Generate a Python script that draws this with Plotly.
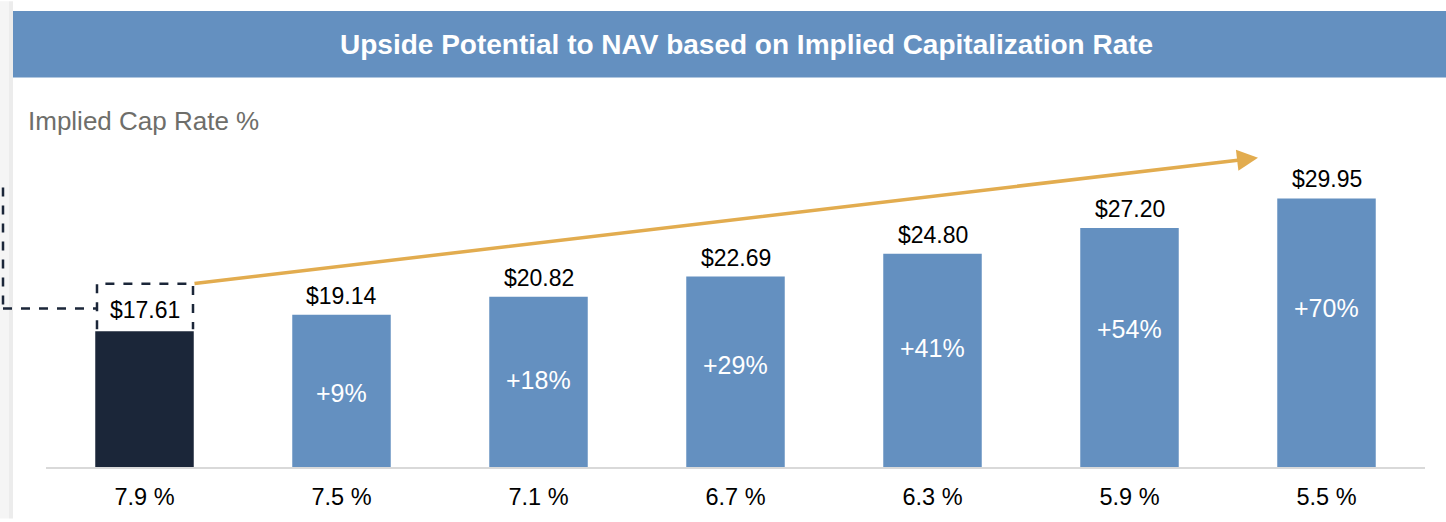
import plotly.graph_objects as go

# ---- data ----
cap_rates = ["7.9 %", "7.5 %", "7.1 %", "6.7 %", "6.3 %", "5.9 %", "5.5 %"]
nav_values = [17.61, 19.14, 20.82, 22.69, 24.80, 27.20, 29.95]
value_labels = ["$17.61", "$19.14", "$20.82", "$22.69", "$24.80", "$27.20", "$29.95"]
upside_labels = ["", "+9%", "+18%", "+29%", "+41%", "+54%", "+70%"]

W, H = 1446, 522
ML, MR, MT, MB = 46, 21, 130, 52
Y0 = 5.0
Y1 = Y0 + (H - MT - MB) / 10.86

NAVY = "#1b2639"
BLUE = "#6490c0"
GOLD = "#e2ac4f"
FONT = "Liberation Sans, Arial, sans-serif"

def px(xp):
    return (xp - ML) / (W - ML - MR)

def py(yp):
    return (H - MB - yp) / (H - MT - MB)

colors = [NAVY] + [BLUE] * (len(nav_values) - 1)

fig = go.Figure()
fig.add_trace(go.Bar(
    x=cap_rates, y=nav_values,
    marker=dict(color=colors, line=dict(width=0)),
    width=0.5, hoverinfo="skip",
))

annotations = []
for i, (c, v, lab) in enumerate(zip(cap_rates, nav_values, value_labels)):
    annotations.append(dict(x=c, y=v, xref="x", yref="y", text=lab, showarrow=False,
                            yanchor="bottom", yshift=4 if i > 0 else 6,
                            font=dict(family=FONT, size=23, color="#000000")))
for i, (c, v, lab) in enumerate(zip(cap_rates, nav_values, upside_labels)):
    if not lab:
        continue
    annotations.append(dict(x=c, y=0.73 * v - 2.07, xref="x", yref="y", text=lab,
                            showarrow=False, yanchor="middle",
                            font=dict(family=FONT, size=25, color="#ffffff")))

# title in header band
annotations.append(dict(x=px(746), y=py(44), xref="paper", yref="paper",
                        text="<b>Upside Potential to NAV based on Implied Capitalization Rate</b>",
                        showarrow=False, xanchor="center", yanchor="middle",
                        font=dict(family=FONT, size=28, color="#ffffff")))
# subtitle
annotations.append(dict(x=px(26), y=py(121), xref="paper", yref="paper",
                        text="Implied Cap Rate %", showarrow=False,
                        xanchor="left", yanchor="middle",
                        font=dict(family=FONT, size=26, color="#6e6e6a")))
# growth arrow
annotations.append(dict(x=px(1258), y=py(158), xref="paper", yref="paper",
                        ax=193 - 1258, ay=284 - 158, axref="pixel", ayref="pixel",
                        text="", showarrow=True, arrowhead=2, arrowsize=1.2,
                        arrowwidth=3.5, arrowcolor=GOLD, standoff=0, startstandoff=0))

box_path = "M {:.5f},{:.5f} L {:.5f},{:.5f} L {:.5f},{:.5f} L {:.5f},{:.5f}".format(
    px(97), py(331), px(97), py(285), px(193), py(285), px(193), py(331))

shapes = [
    # left shadow strip
    dict(type="rect", xref="paper", yref="paper", x0=px(0), x1=px(9), y0=py(0), y1=py(H),
         fillcolor="#f5f5f5", line=dict(width=0), layer="below"),
    dict(type="rect", xref="paper", yref="paper", x0=px(9), x1=px(13), y0=py(0), y1=py(H),
         fillcolor="#ececec", line=dict(width=0), layer="below"),
    # header band
    dict(type="rect", xref="paper", yref="paper", x0=px(13), x1=px(W), y0=py(10), y1=py(77),
         fillcolor=BLUE, line=dict(width=0), layer="below"),
    # dashed callout box (open at the bottom)
    dict(type="path", xref="paper", yref="paper", path=box_path,
         line=dict(color=NAVY, width=2.5, dash="dash")),
    dict(type="line", xref="paper", yref="paper", x0=px(3), x1=px(97), y0=py(310), y1=py(310),
         line=dict(color=NAVY, width=2.5, dash="dash")),
    dict(type="line", xref="paper", yref="paper", x0=px(3), x1=px(3), y0=py(188), y1=py(310),
         line=dict(color=NAVY, width=2.5, dash="dash")),
]

fig.update_layout(
    width=W, height=H,
    margin=dict(l=ML, r=MR, t=MT, b=MB),
    paper_bgcolor="#ffffff", plot_bgcolor="#ffffff",
    showlegend=False,
    annotations=annotations,
    shapes=shapes,
    xaxis=dict(showline=True, linecolor="#d9d9d9", linewidth=2, showgrid=False,
               ticks="outside", ticklen=8, tickcolor="rgba(0,0,0,0)",
               tickfont=dict(family=FONT, size=23.5, color="#000000"), fixedrange=True),
    yaxis=dict(range=[Y0, Y1], visible=False, showgrid=False, fixedrange=True),
)

fig.write_html("out.html", config={"displayModeBar": False},
               post_script="document.body.style.margin='0';")
